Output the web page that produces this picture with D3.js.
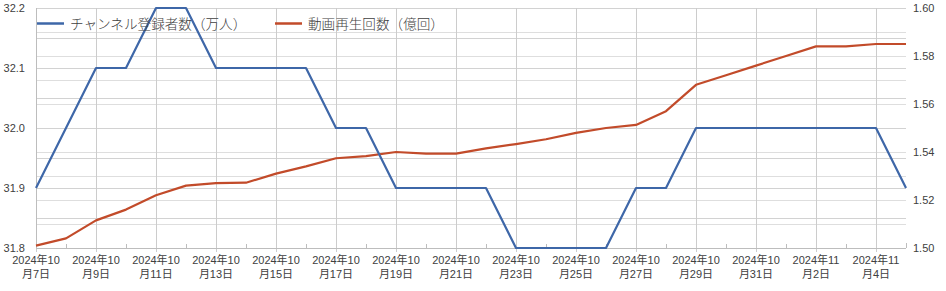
<!DOCTYPE html>
<html><head><meta charset="utf-8">
<script src="https://cdn.jsdelivr.net/npm/d3@7"></script>
<style>
html,body{margin:0;padding:0;background:#fff;}
text{font-family:"Liberation Sans","Noto Sans CJK JP",sans-serif;fill:#404040;}
</style></head>
<body><svg id="c" width="946" height="291"></svg>
<script>
const dates = ["2024-10-07","2024-10-08","2024-10-09","2024-10-10","2024-10-11","2024-10-12","2024-10-13","2024-10-14","2024-10-15","2024-10-16","2024-10-17","2024-10-18","2024-10-19","2024-10-20","2024-10-21","2024-10-22","2024-10-23","2024-10-24","2024-10-25","2024-10-26","2024-10-27","2024-10-28","2024-10-29","2024-10-30","2024-10-31","2024-11-01","2024-11-02","2024-11-03","2024-11-04","2024-11-05"];
const subscribers = [31.9,32.0,32.1,32.1,32.2,32.2,32.1,32.1,32.1,32.1,32.0,32.0,31.9,31.9,31.9,31.9,31.8,31.8,31.8,31.8,31.9,31.9,32.0,32.0,32.0,32.0,32.0,32.0,32.0,31.9];
const views = [1.501,1.504,1.5115,1.516,1.522,1.526,1.527,1.5272,1.531,1.534,1.5374,1.5383,1.540,1.5393,1.5393,1.5415,1.5433,1.5453,1.548,1.550,1.5513,1.557,1.568,1.572,1.576,1.580,1.584,1.584,1.585,1.585];
const leftTicks = [31.8,31.9,32.0,32.1,32.2];
const rightTicks = [1.50,1.52,1.54,1.56,1.58,1.60];
const leftGrid = [31.8,31.85,31.9,31.95,32.0,32.05,32.1,32.15,32.2];
const rightGrid = [1.50,1.51,1.52,1.53,1.54,1.55,1.56,1.57,1.58,1.59,1.60];
const seriesNames = ["チャンネル登録者数（万人）","動画再生回数（億回）"];
const colors = ["#3e67a8","#c24b2a"];

const svg = d3.select("#c");
const L=36, R=906, T=8, B=248;
const x = d3.scalePoint().domain(dates).range([L,R]);
const yL = d3.scaleLinear().domain([31.8,32.2]).range([B,T]);
const yR = d3.scaleLinear().domain([1.50,1.60]).range([B,T]);

const g = svg.append("g");
g.selectAll(".gr").data(rightGrid).join("line")
  .attr("x1",L).attr("x2",R).attr("y1",d=>Math.round(yR(d))+0.5).attr("y2",d=>Math.round(yR(d))+0.5)
  .attr("stroke","#dedede").attr("stroke-width",1);
g.selectAll(".gl").data(leftGrid).join("line")
  .attr("x1",L).attr("x2",R).attr("y1",d=>Math.round(yL(d))+0.5).attr("y2",d=>Math.round(yL(d))+0.5)
  .attr("stroke","#d2d2d2").attr("stroke-width",1);
const labeled = dates.filter((d,i)=>i%2===0);
g.selectAll(".gv").data(labeled).join("line")
  .attr("x1",d=>Math.round(x(d))+0.5).attr("x2",d=>Math.round(x(d))+0.5).attr("y1",T).attr("y2",B+4)
  .attr("stroke","#cccccc").attr("stroke-width",1);
g.selectAll(".mt").data(dates.filter((d,i)=>i%2===1)).join("line")
  .attr("x1",d=>Math.round(x(d))+0.5).attr("x2",d=>Math.round(x(d))+0.5).attr("y1",B-4).attr("y2",B)
  .attr("stroke","#bdbdbd");
g.append("line").attr("x1",L+0.5).attr("x2",L+0.5).attr("y1",T).attr("y2",B).attr("stroke","#bdbdbd");
g.append("line").attr("x1",L).attr("x2",R).attr("y1",B+0.5).attr("y2",B+0.5).attr("stroke","#bdbdbd");
g.append("line").attr("x1",R+0.5).attr("x2",R+0.5).attr("y1",B-5).attr("y2",B).attr("stroke","#bdbdbd");

svg.selectAll(".lt").data(leftTicks).join("text")
  .attr("x",25).attr("y",d=>yL(d)).attr("dy","0.35em").attr("text-anchor","end")
  .attr("font-size",11).text(d=>d.toFixed(1));
svg.selectAll(".rt").data(rightTicks).join("text")
  .attr("x",913).attr("y",d=>yR(d)).attr("dy","0.35em").attr("text-anchor","start")
  .attr("font-size",11).text(d=>d.toFixed(2));
const xl = svg.selectAll(".xl").data(labeled).join("text")
  .attr("x",d=>x(d)).attr("text-anchor","middle").attr("font-size",11);
xl.append("tspan").attr("x",d=>x(d)).attr("y",264)
  .text(d=>{const p=d.split("-");return p[0]+"年"+(+p[1]);});
xl.append("tspan").attr("x",d=>x(d)).attr("y",278)
  .text(d=>{const p=d.split("-");return "月"+(+p[2])+"日";});

const lineL = d3.line().x((d,i)=>x(dates[i])).y(d=>yL(d));
const lineR = d3.line().x((d,i)=>x(dates[i])).y(d=>yR(d));
svg.append("path").attr("d",lineR(views)).attr("fill","none").attr("stroke",colors[1]).attr("stroke-width",2.2).attr("stroke-linejoin","round");
svg.append("path").attr("d",lineL(subscribers)).attr("fill","none").attr("stroke",colors[0]).attr("stroke-width",2.2).attr("stroke-linejoin","round");

const legX = [37,275];
seriesNames.forEach((n,i)=>{
  svg.append("line").attr("x1",legX[i]).attr("x2",legX[i]+27).attr("y1",23.5).attr("y2",23.5)
    .attr("stroke",colors[i]).attr("stroke-width",2.5);
  svg.append("text").attr("x",legX[i]+33).attr("y",24).attr("dy","0.36em")
    .attr("font-size",13.6).style("font-family","'Noto Sans CJK JP',sans-serif").style("font-weight",300).text(n);
});
</script></body></html>
